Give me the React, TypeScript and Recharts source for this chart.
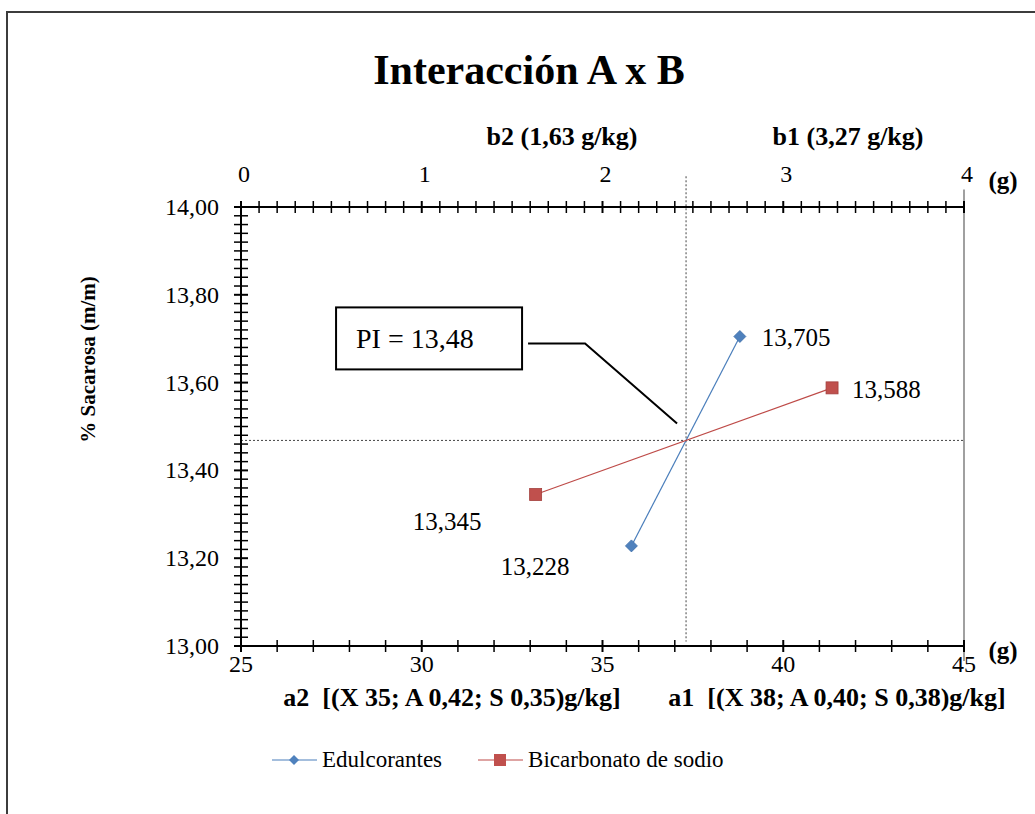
import React from "react";
import {
  ScatterChart,
  Scatter,
  XAxis,
  YAxis,
  ReferenceLine,
  ReferenceDot,
  Legend,
  LabelList,
} from "recharts";

// datos de la interacción A x B
const edulcorantes = [
  { x: 35.8, y: 13.228 },
  { x: 38.8, y: 13.705 },
];
const bicarbonato = [
  { x: 1.63, y: 13.345 },
  { x: 3.27, y: 13.588 },
];
const SERIES = ["Edulcorantes", "Bicarbonato de sodio"];

const BOTTOM_DOMAIN = [25, 45];
const TOP_DOMAIN = [0, 4];
const Y_DOMAIN = [13, 14];

const bottomTicks = Array.from({ length: 21 }, (_, i) => 25 + i);
const topTicks = Array.from({ length: 41 }, (_, i) => i / 10);
const yTicks = Array.from({ length: 51 }, (_, i) => Math.round((13 + i * 0.02) * 100) / 100);

const PI_LABEL = "PI = 13,48";

const FONT = "'Liberation Serif', 'Times New Roman', serif";
const BLUE = "#4a7ebb";
const RED = "#be4b48";

// punto de cruce de las dos rectas (la serie roja pasada a la escala inferior)
const toBottom = (t: number) =>
  BOTTOM_DOMAIN[0] +
  ((t - TOP_DOMAIN[0]) * (BOTTOM_DOMAIN[1] - BOTTOM_DOMAIN[0])) / (TOP_DOMAIN[1] - TOP_DOMAIN[0]);

function crossing() {
  const [a, b] = edulcorantes;
  const c = { x: toBottom(bicarbonato[0].x), y: bicarbonato[0].y };
  const d = { x: toBottom(bicarbonato[1].x), y: bicarbonato[1].y };
  const m1 = (b.y - a.y) / (b.x - a.x);
  const m2 = (d.y - c.y) / (d.x - c.x);
  const x = (c.y - a.y + m1 * a.x - m2 * c.x) / (m1 - m2);
  return { x, y: a.y + m1 * (x - a.x) };
}
const cross = crossing();

const comma = (v: number, d: number) => v.toFixed(d).replace(".", ",");

const YTick = (props: any) => {
  const { x, y, payload } = props;
  const v = payload.value;
  const major = Math.round(v * 100) % 20 === 0;
  return (
    <g>
      <line x1={x - 7} x2={x + 7} y1={y} y2={y} stroke="#000" strokeWidth={major ? 2 : 1.5} />
      {major && (
        <text x={x - 22} y={y} textAnchor="end" dominantBaseline="central" fontFamily={FONT} fontSize={24} fill="#000">
          {comma(v, 2)}
        </text>
      )}
    </g>
  );
};

const TopTick = (props: any) => {
  const { x, y, payload } = props;
  const v = payload.value;
  const major = Math.abs(v - Math.round(v)) < 1e-6;
  return (
    <g>
      <line x1={x} x2={x} y1={y - 6} y2={y + 6} stroke="#000" strokeWidth={major ? 2 : 1.5} />
      {major && (
        <text x={x + 3} y={y - 33} textAnchor="middle" dominantBaseline="central" fontFamily={FONT} fontSize={24} fill="#000">
          {Math.round(v)}
        </text>
      )}
    </g>
  );
};

const BottomTick = (props: any) => {
  const { x, y, payload } = props;
  const v = payload.value;
  const major = v % 5 === 0;
  return (
    <g>
      <line x1={x} x2={x} y1={y - 6} y2={y + 6} stroke="#000" strokeWidth={major ? 2 : 1.5} />
      {major && (
        <text x={x} y={y + 18} textAnchor="middle" dominantBaseline="central" fontFamily={FONT} fontSize={24} fill="#000">
          {v}
        </text>
      )}
    </g>
  );
};

const Diamond = (props: any) => {
  const { cx, cy } = props;
  if (cx == null || cy == null) return null;
  const r = 6;
  return (
    <path
      d={`M${cx},${cy - r}L${cx + r},${cy}L${cx},${cy + r}L${cx - r},${cy}Z`}
      fill="#4f81bd"
      stroke="#3d6da8"
      strokeWidth={0.8}
    />
  );
};

const Square = (props: any) => {
  const { cx, cy } = props;
  if (cx == null || cy == null) return null;
  const r = 6;
  return <rect x={cx - r} y={cy - r} width={2 * r} height={2 * r} fill="#c0504d" stroke="#a33f3c" strokeWidth={0.8} />;
};

// desplazamientos de las etiquetas de cada punto
const blueLabelPos = [
  { dx: -62, dy: 21, anchor: "end" },
  { dx: 22, dy: 1, anchor: "start" },
];
const redLabelPos = [
  { dx: -54, dy: 27, anchor: "end" },
  { dx: 20, dy: 2, anchor: "start" },
];

const makeLabel = (pos: any[]) => (props: any) => {
  const { x, y, width, height, value, index } = props;
  const cx = x + (width || 0) / 2;
  const cy = y + (height || 0) / 2;
  const p = pos[index] || pos[0];
  return (
    <text
      x={cx + p.dx}
      y={cy + p.dy}
      textAnchor={p.anchor}
      dominantBaseline="central"
      fontFamily={FONT}
      fontSize={25}
      fill="#000"
    >
      {comma(Number(value), 3)}
    </text>
  );
};

const PIAnnotation = (props: any) => {
  const vb = props.viewBox || {};
  const cx = vb.x + (vb.width || 0) / 2;
  const cy = vb.y + (vb.height || 0) / 2;
  return (
    <g>
      <polyline
        points={`${cx - 9},${cy - 17} ${cx - 101},${cy - 97} ${cx - 158},${cy - 97}`}
        fill="none"
        stroke="#000"
        strokeWidth={2}
      />
      <rect x={cx - 350} y={cy - 133} width={186} height={62} fill="#fff" stroke="#000" strokeWidth={2} />
      <text x={cx - 330} y={cy - 102} dominantBaseline="central" fontFamily={FONT} fontSize={28} fill="#000">
        {PI_LABEL}
      </text>
    </g>
  );
};

const YLabel = (props: any) => {
  const vb = props.viewBox || {};
  const x = vb.x - 93;
  const y = vb.y + vb.height / 2 - 67;
  return (
    <text
      x={x}
      y={y}
      transform={`rotate(-90, ${x}, ${y})`}
      textAnchor="middle"
      dominantBaseline="central"
      fontFamily={FONT}
      fontWeight="bold"
      fontSize={21}
      fill="#000"
    >
      % Sacarosa (m/m)
    </text>
  );
};

const LegendContent = (props: any) => {
  const payload = [...(props.payload || [])].sort(
    (a: any, b: any) => SERIES.indexOf(a.value) - SERIES.indexOf(b.value)
  );
  return (
    <div style={{ display: "flex", paddingLeft: 272, fontFamily: FONT, fontSize: 23, color: "#000" }}>
      {payload.map((entry: any, i: number) => {
        const isBlue = entry.value === SERIES[0];
        const color = isBlue ? BLUE : RED;
        return (
          <div key={i} style={{ display: "flex", alignItems: "center", marginRight: 36 }}>
            <svg width={45} height={16} style={{ marginRight: 5 }}>
              <line x1={0} x2={45} y1={8} y2={8} stroke={color} strokeWidth={1.2} />
              {isBlue ? (
                <path d="M22,3L27,8L22,13L17,8Z" fill="#4f81bd" />
              ) : (
                <rect x={16} y={2} width={12} height={12} fill="#c0504d" />
              )}
            </svg>
            <span>{entry.value}</span>
          </div>
        );
      })}
    </div>
  );
};

const overlayText = (text: string, cx: number, cy: number, size: number, bold = true) => (
  <div
    style={{
      position: "absolute",
      left: cx,
      top: cy,
      transform: "translate(-50%, -50%)",
      whiteSpace: "pre",
      fontFamily: FONT,
      fontSize: size,
      fontWeight: bold ? "bold" : "normal",
      lineHeight: 1,
      color: "#000",
    }}
  >
    {text}
  </div>
);

export default function App() {
  return (
    <div
      style={{
        position: "absolute",
        left: 0,
        top: 0,
        width: 1035,
        height: 814,
        overflow: "hidden",
        background: "#fff",
      }}
    >
      <div
        style={{
          position: "absolute",
          left: 6,
          top: 11,
          width: 1100,
          height: 900,
          border: "2px solid #3c3c3c",
        }}
      />
      <div style={{ position: "absolute", left: 0, top: 0 }}>
        <ScatterChart width={1035} height={814} margin={{ top: 167, right: 71, bottom: 128, left: 181 }}>
          <XAxis
            xAxisId="bottom"
            dataKey="x"
            type="number"
            orientation="bottom"
            domain={BOTTOM_DOMAIN}
            ticks={bottomTicks}
            interval={0}
            height={40}
            tickSize={0}
            tickMargin={0}
            tickLine={false}
            axisLine={{ stroke: "#000", strokeWidth: 2 }}
            tick={<BottomTick />}
            allowDataOverflow
          />
          <XAxis
            xAxisId="top"
            dataKey="x"
            type="number"
            orientation="top"
            domain={TOP_DOMAIN}
            ticks={topTicks}
            interval={0}
            height={40}
            tickSize={0}
            tickMargin={0}
            tickLine={false}
            axisLine={{ stroke: "#000", strokeWidth: 2 }}
            tick={<TopTick />}
            allowDataOverflow
          />
          <YAxis
            dataKey="y"
            type="number"
            domain={Y_DOMAIN}
            ticks={yTicks}
            interval={0}
            width={60}
            tickSize={0}
            tickMargin={0}
            tickLine={false}
            axisLine={{ stroke: "#000", strokeWidth: 2 }}
            tick={<YTick />}
            label={<YLabel />}
            allowDataOverflow
          />
          <ReferenceLine
            xAxisId="bottom"
            y={cross.y}
            stroke="#444"
            strokeDasharray="2 2"
            strokeWidth={1}
          />
          <ReferenceLine
            xAxisId="bottom"
            segment={[
              { x: cross.x, y: 14.07 },
              { x: cross.x, y: 13.01 },
            ]}
            ifOverflow="visible"
            stroke="#444"
            strokeDasharray="2 2"
            strokeWidth={1}
          />
          <ReferenceLine
            xAxisId="bottom"
            segment={[
              { x: 45, y: 14.04 },
              { x: 45, y: 12.966 },
            ]}
            ifOverflow="visible"
            stroke="#808080"
            strokeWidth={1.5}
          />
          <Scatter
            name={SERIES[0]}
            xAxisId="bottom"
            data={edulcorantes}
            fill="#4f81bd"
            line={{ stroke: BLUE, strokeWidth: 1.2 }}
            shape={<Diamond />}
            isAnimationActive={false}
          >
            <LabelList dataKey="y" content={makeLabel(blueLabelPos)} />
          </Scatter>
          <Scatter
            name={SERIES[1]}
            xAxisId="top"
            data={bicarbonato}
            fill="#c0504d"
            line={{ stroke: RED, strokeWidth: 1.2 }}
            shape={<Square />}
            isAnimationActive={false}
          >
            <LabelList dataKey="y" content={makeLabel(redLabelPos)} />
          </Scatter>
          <ReferenceDot
            xAxisId="bottom"
            x={cross.x}
            y={cross.y}
            r={1}
            fill="none"
            stroke="none"
            label={<PIAnnotation />}
          />
          <Legend
            verticalAlign="middle"
            align="center"
            wrapperStyle={{ top: 747, left: 0, width: 1035 }}
            content={<LegendContent />}
          />
        </ScatterChart>
      </div>
      {overlayText("Interacción A x B", 529, 70, 42)}
      {overlayText("b2 (1,63 g/kg)", 562, 137, 26)}
      {overlayText("b1 (3,27 g/kg)", 848, 137, 26)}
      {overlayText("(g)", 1003, 180, 25)}
      {overlayText("(g)", 1003, 650, 25)}
      {overlayText("a2  [(X 35; A 0,42; S 0,35)g/kg]", 452, 698, 26)}
      {overlayText("a1  [(X 38; A 0,40; S 0,38)g/kg]", 837, 698, 26)}
    </div>
  );
}
